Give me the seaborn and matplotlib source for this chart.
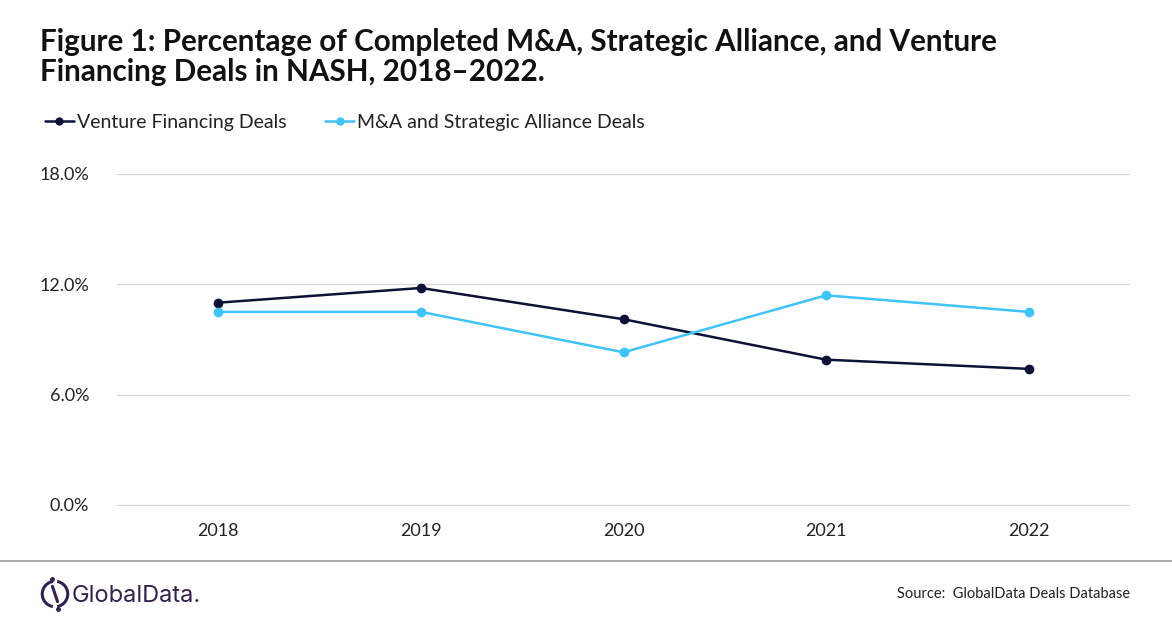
import numpy as np
import pandas as pd
import seaborn as sns
import matplotlib.pyplot as plt
from matplotlib.lines import Line2D
from matplotlib.patches import Arc

# Values (percent of completed deals)
years = ["2018", "2019", "2020", "2021", "2022"]
venture_financing = [11.0, 11.8, 10.1, 7.9, 7.4]
ma_strategic = [10.5, 10.5, 8.3, 11.4, 10.5]
y_ticks = [0, 6, 12, 18]

NAVY = "#0c1136"
SKY = "#3fc3fb"

df = pd.DataFrame({
    "year": years * 2,
    "value": venture_financing + ma_strategic,
    "series": ["Venture Financing Deals"] * 5 + ["M&A and Strategic Alliance Deals"] * 5,
})

sns.set_theme(style="white")
plt.rcParams["font.family"] = ["Lato", "DejaVu Sans"]

fig = plt.figure(figsize=(11.72, 6.28), dpi=100)
ax = fig.add_axes([117 / 1172, 1 - 506 / 628, (1130 - 117) / 1172, (506 - 174) / 628])

sns.lineplot(data=df, x="year", y="value", hue="series",
             palette={"Venture Financing Deals": NAVY, "M&A and Strategic Alliance Deals": SKY},
             marker="o", markersize=7, markeredgewidth=0, linewidth=1.8,
             ax=ax, legend=False, sort=False)

ax.set_xlim(-0.5, len(years) - 0.5)
ax.set_ylim(-0.06, 18)
ax.set_yticks(y_ticks)
ax.set_yticklabels([f"{v:.1f}%" for v in y_ticks])
ax.yaxis.grid(True, color="#d9d9d9", linewidth=1)
ax.xaxis.grid(False)
for s in ax.spines.values():
    s.set_visible(False)
ax.tick_params(axis="both", length=0, labelsize=13, colors="#222222")
ax.tick_params(axis="y", pad=20)
ax.tick_params(axis="x", pad=12)
ax.set_xlabel("")
ax.set_ylabel("")

fig.text(40 / 1172, 1 - 28 / 628,
         "Figure 1: Percentage of Completed M&A, Strategic Alliance, and Venture\nFinancing Deals in NASH, 2018\u20132022.",
         fontsize=21.3, fontweight="bold", color="#111111", va="top", ha="left", linespacing=1.1)

handles = [
    Line2D([], [], color=NAVY, marker="o", markersize=6, linewidth=1.8, markeredgewidth=0),
    Line2D([], [], color=SKY, marker="o", markersize=6, linewidth=1.8, markeredgewidth=0),
]
fig.legend(handles, ["Venture Financing Deals", "M&A and Strategic Alliance Deals"],
           loc="center left", bbox_to_anchor=(27 / 1172, 1 - 122 / 628), ncol=2,
           frameon=False, fontsize=14, handlelength=1.5, handletextpad=0.15,
           columnspacing=2.0, labelcolor="#222222")

# footer separator
fig.add_artist(Line2D([0, 1], [1 - 561 / 628, 1 - 561 / 628], color="#999999", linewidth=1.2,
                      transform=fig.transFigure))

# logo
PURPLE = "#33214f"
logo_ax = fig.add_axes([38 / 1172, 1 - 612 / 628, 34 / 1172, 36 / 628])
logo_ax.set_xlim(-1, 1)
logo_ax.set_ylim(-1, 1)
logo_ax.set_aspect("equal")
logo_ax.axis("off")
logo_ax.add_patch(Arc((0, 0), 1.5, 1.5, theta1=100, theta2=260, color=PURPLE, linewidth=2.2))
logo_ax.add_patch(Arc((0, 0), 1.5, 1.5, theta1=-80, theta2=80, color=PURPLE, linewidth=2.2))
logo_ax.plot([-0.15, 0.15], [0.45, -0.45], color=PURPLE, linewidth=2.2)
logo_ax.plot([-0.2, 0.2], [0.9, -0.9], "o", color=PURPLE, markersize=2.5)
fig.text(72 / 1172, 1 - 596 / 628, "GlobalData.", fontsize=17, color=PURPLE,
         va="center", ha="left", family=["Inter", "DejaVu Sans"])

fig.text(1130 / 1172, 1 - 594 / 628, "Source:  GlobalData Deals Database", fontsize=10.5,
         color="#222222", ha="right", va="center")

fig.savefig("out.png", dpi=100, facecolor="white")
